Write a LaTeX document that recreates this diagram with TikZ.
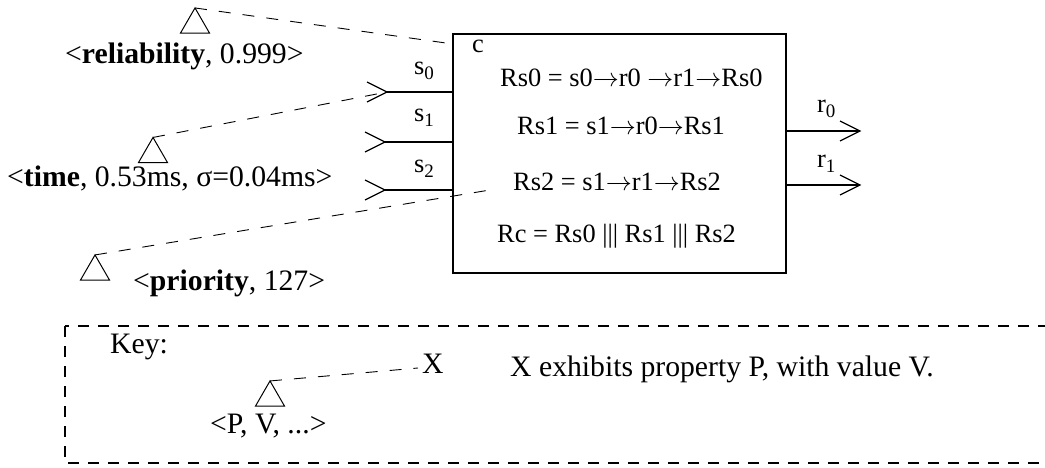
\documentclass[tikz,border=0pt]{standalone}
\usepackage{fontspec}
\setmainfont{Liberation Serif}
\usetikzlibrary{shapes.geometric}
\newcommand\subsc[1]{\raisebox{-5pt}{\fontsize{19}{19}\selectfont #1}}
\newcommand\arr{\resizebox{26pt}{!}{$\rightarrow$}}
\begin{document}
\begin{tikzpicture}[x=1pt,y=-1pt,
  lab/.style={inner sep=0pt, anchor=base west, font=\fontsize{29.7}{31}\selectfont},
  btxt/.style={inner sep=0pt, anchor=base west, font=\fontsize{26.4}{28}\selectfont},
  tri/.style={draw, regular polygon, regular polygon sides=3, minimum size=33.5pt, inner sep=0pt, outer sep=0pt, line width=1pt},
  conn/.style={dash pattern=on 12pt off 12pt, line width=0.9pt},
  port/.style={line width=1.4pt},
  barb/.style={line width=1.2pt},
  keybox/.style={dash pattern=on 11pt off 9pt, line width=1.4pt}]
\useasboundingbox (0,0) rectangle (1045,468);

% component box
\node[draw, line width=1.4pt, minimum width=333pt, minimum height=239pt, inner sep=0pt, outer sep=0pt] (c) at (619.5,153.5) {};
\node[btxt] (cl) at (472,53) {c};
\node[btxt] (rs0) at (500,87) {Rs0 = s0\arr r0 \arr r1\arr Rs0};
\node[btxt] (rs1) at (517,135) {Rs1 = s1\arr r0\arr Rs1};
\node[btxt] (rs2) at (513,191) {Rs2 = s1\arr r1\arr Rs2};
\node[btxt] (rc) at (497,243) {Rc = Rs0 ||| Rs1 ||| Rs2};

% input ports
\coordinate (s0t) at (387,92);
\coordinate (s1t) at (385,142);
\coordinate (s2t) at (385,190);
\foreach \p in {s0t,s1t,s2t}{
  \draw[port] (\p) -- (\p -| c.west);
  \draw[barb] (\p) ++(-20,-10) -- (\p) -- ++(-20,10);
}
\node[btxt] (s0l) at (414,75) {s\subsc{0}};
\node[btxt] (s1l) at (414,122) {s\subsc{1}};
\node[btxt] (s2l) at (414,173) {s\subsc{2}};

% output ports
\coordinate (r0t) at (860,131);
\coordinate (r1t) at (860,185);
\foreach \p in {r0t,r1t}{
  \draw[port] (c.east |- \p) -- (\p);
  \draw[barb] (\p) ++(-20,-10) -- (\p) -- ++(-20,10);
}
\node[btxt] (r0l) at (817,113) {r\subsc{0}};
\node[btxt] (r1l) at (817,168) {r\subsc{1}};

% properties
\node[tri] (trel) at (195,24.7) {};
\node[lab] (lrel) at (65,64) {<\textbf{reliability}, 0.999>};
\node[tri] (ttime) at (153,154.2) {};
\node[lab] (ltime) at (7,186) {<\textbf{time}, 0.53ms, σ=0.04ms>};
\node[tri] (tprio) at (95,271.7) {};
\node[lab] (lprio) at (133,290) {<\textbf{priority}, 127>};

\coordinate (relend) at (453,44);
\coordinate (prioend) at (490,190);
\draw[conn] (trel.corner 1) -- (relend);
\draw[conn] (ttime.corner 1) -- (s0t);
\draw[conn] (tprio.corner 1) -- (prioend);

% key
\draw[keybox] (65,326) rectangle (1070,463);
\node[lab] (key) at (110,353) {Key:};
\node[tri] (tkey) at (270,397.7) {};
\node[lab] (pv) at (210,433) {<P, V, ...>};
\node[lab] (x) at (422,373) {X};
\node[lab] (expl) at (510,376) {X exhibits property P, with value V.};
\coordinate (xend) at (418,368);
\draw[conn] (tkey.corner 1) -- (xend);
\end{tikzpicture}
\end{document}
